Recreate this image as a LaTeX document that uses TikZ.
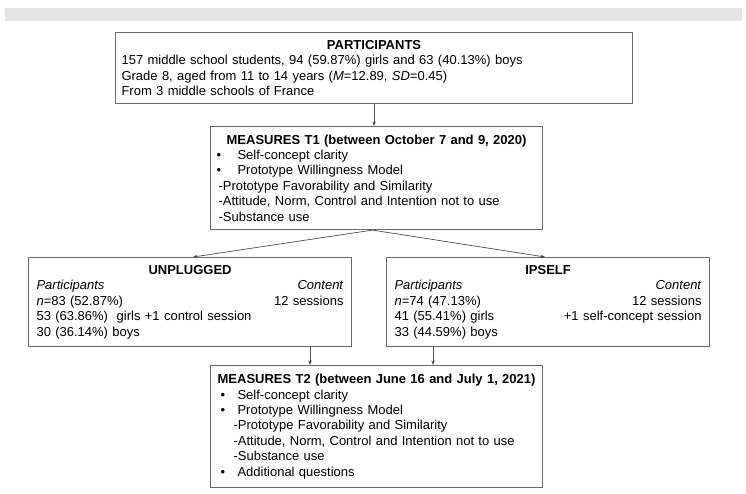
\documentclass[tikz,border=0pt]{standalone}
\usepackage{fontspec}
\setmainfont{Liberation Sans}
\usetikzlibrary{arrows.meta,positioning}
\definecolor{boxgray}{RGB}{105,105,105}
\definecolor{bargray}{RGB}{229,229,229}

\newcommand{\boxtitle}[1]{\makebox[\hsize]{\bfseries #1}}
\newcommand{\bulletA}{\makebox[21pt][l]{\textbullet}}
\newcommand{\bulletB}{\hspace*{4pt}\makebox[17pt][l]{\textbullet}}

\begin{document}
\begin{tikzpicture}[x=1pt,y=-1pt,>={Stealth[length=4.5pt,width=3.5pt]},
    font=\fontsize{13}{15.4}\selectfont,
    box/.style={draw=boxgray,line width=1.1pt,anchor=north west,align=left,
      inner xsep=6pt,inner ysep=0pt},
    armbox/.style={box,inner xsep=8pt,text width=307pt,minimum height=89pt},
    link/.style={->,draw=black!70,line width=0.7pt}]

  \useasboundingbox (0,0) rectangle (746,494);
  \fill[bargray] (5,8) rectangle (742,21);

  % Participants
  \node[box,text width=505pt,minimum height=71pt] (part) at (115,32) {%
    \boxtitle{PARTICIPANTS}\\
    157 middle school students, 94 (59.87\%) girls and 63 (40.13\%) boys\\
    Grade 8, aged from 11 to 14 years (\textit{M}=12.89, \textit{SD}=0.45)\\
    From 3 middle schools of France};

  % Measures at T1
  \node[box,text width=320pt,minimum height=103pt] (mt1) at (210,126) {%
    \boxtitle{MEASURES T1 (between October 7 and 9, 2020)}\\
    \bulletA Self-concept clarity\\
    \bulletA Prototype Willingness Model\\
    \hspace*{2pt}-Prototype Favorability and Similarity\\
    \hspace*{2pt}-Attitude, Norm, Control and Intention not to use\\
    \hspace*{2pt}-Substance use};

  % Intervention arms
  \node[armbox] (unp) at (28,257) {%
    \boxtitle{UNPLUGGED}\\
    \textit{Participants}\hfill\textit{Content}\\
    \textit{n}=83 (52.87\%)\hfill 12 sessions\\
    53 (63.86\%)~ girls +1 control session\\
    30 (36.14\%) boys};
  \node[armbox] (ips) at (386,257) {%
    \boxtitle{IPSELF}\\
    \textit{Participants}\hfill\textit{Content}\\
    \textit{n}=74 (47.13\%)\hfill 12 sessions\\
    41 (55.41\%) girls\hfill +1 self-concept session\\
    33 (44.59\%) boys};

  % Measures at T2
  \node[box,text width=320pt,minimum height=122pt] (mt2) at (210,365) {%
    \boxtitle{MEASURES T2 (between June 16 and July 1, 2021)}\\
    \bulletB Self-concept clarity\\
    \bulletB Prototype Willingness Model\\
    \hspace*{17pt}-Prototype Favorability and Similarity\\
    \hspace*{17pt}-Attitude, Norm, Control and Intention not to use\\
    \hspace*{17pt}-Substance use\\
    \bulletB Additional questions};

  % Links
  \draw[link] (part.south) -- (part.south |- mt1.north);
  \draw[link] ([xshift=-4pt]mt1.south) -- ([xshift=3pt]unp.north);
  \draw[link] ([xshift=-4pt]mt1.south) -- ([xshift=-3pt]ips.north);
  \draw[link] ([xshift=120pt]unp.south) -- ([xshift=120pt]unp.south |- mt2.north);
  \draw[link] ([xshift=-115pt]ips.south) -- ([xshift=-115pt]ips.south |- mt2.north);

\end{tikzpicture}
\end{document}
